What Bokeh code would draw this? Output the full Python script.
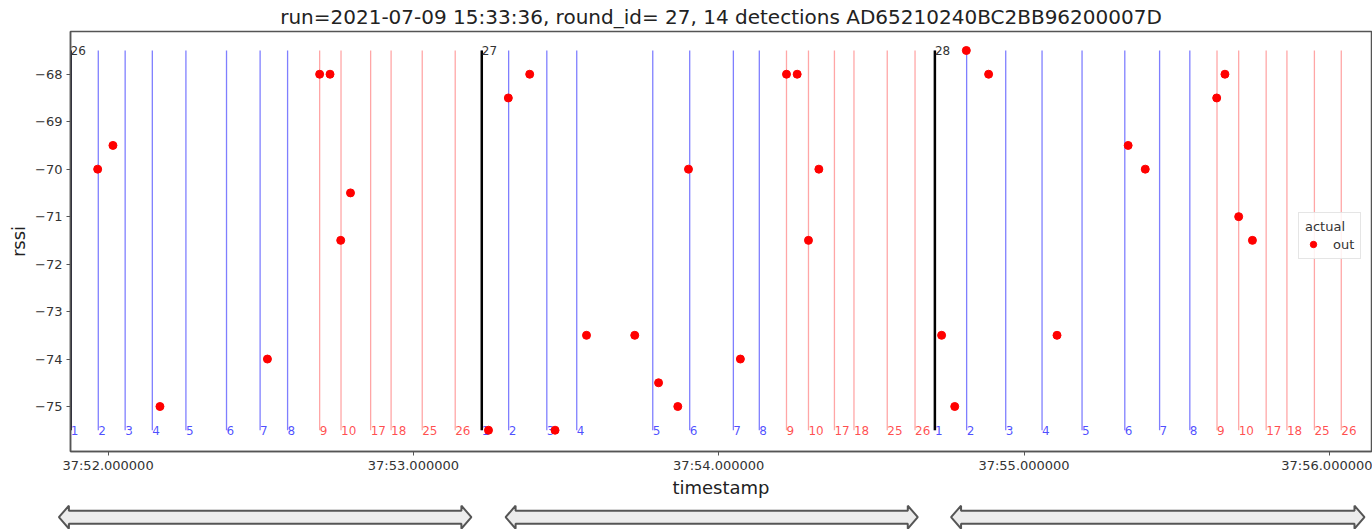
from bokeh.plotting import figure
from bokeh.models import ColumnDataSource, Range1d, FixedTicker, Legend, LegendItem
from bokeh.layouts import column
from bokeh.core.properties import value
from bokeh.embed import file_html
from bokeh.resources import INLINE

# ---------------- data ----------------
TITLE = "run=2021-07-09 15:33:36, round_id= 27, 14 detections AD65210240BC2BB96200007D"

round_ids = [26, 27, 28]
round_start_t = [51.877, 53.224, 54.708]          # seconds within minute 37

channels = [1, 2, 3, 4, 5, 6, 7, 8, 9, 10, 17, 18, 25, 26]
channel_colors = ["blue"] * 8 + ["red"] * 6

round26_channel_t = [51.878, 51.968, 52.056, 52.145, 52.255, 52.388, 52.498,
                     52.588, 52.693, 52.763, 52.860, 52.927, 53.029, 53.137]
round27_channel_t = [53.224, 53.312, 53.437, 53.535, 53.784, 53.905, 54.048,
                     54.133, 54.222, 54.294, 54.379, 54.443, 54.552, 54.643]
round28_channel_t = [54.708, 54.812, 54.940, 55.059, 55.190, 55.330, 55.444,
                     55.543, 55.632, 55.703, 55.793, 55.861, 55.951, 56.039]

det_t = [51.966, 52.016, 52.170, 52.522, 52.693, 52.727, 52.762, 52.794,
         53.246, 53.311, 53.381, 53.464, 53.567, 53.725, 53.803, 53.866,
         53.901, 54.071, 54.222, 54.257, 54.294, 54.328,
         54.730, 54.773, 54.811, 54.884, 55.108, 55.341, 55.397, 55.631,
         55.658, 55.703, 55.748]
det_rssi = [-70.0, -69.5, -75.0, -74.0, -68.0, -68.0, -71.5, -70.5,
            -75.5, -68.5, -68.0, -75.5, -73.5, -73.5, -74.5, -75.0,
            -70.0, -74.0, -68.0, -68.0, -71.5, -70.0,
            -73.5, -75.0, -67.5, -68.0, -73.5, -69.5, -70.0, -68.5,
            -68.0, -71.0, -71.5]
det_actual = ["out"] * len(det_t)

x_tick_values = [52, 53, 54, 55, 56]
x_tick_labels = ["37:52.000000", "37:53.000000", "37:54.000000",
                 "37:55.000000", "37:56.000000"]
y_tick_values = [-75, -74, -73, -72, -71, -70, -69, -68]

arrow_start_t = [51.839, 53.302, 54.761]
arrow_end_t = [53.190, 54.652, 56.115]

# ---------------- layout constants ----------------
W = 1372
FONT = "DejaVu Sans"
BORDER_L, BORDER_R = 70, 1
X_START, X_END = 51.877, 56.138

ymin, ymax = min(det_rssi), max(det_rssi)
pad = (ymax - ymin) * 0.05

p = figure(width=W, height=500, output_backend="svg", toolbar_location=None,
           x_range=Range1d(X_START, X_END),
           y_range=Range1d(ymin - pad * 1.12, ymax + pad),
           min_border_left=BORDER_L, min_border_right=BORDER_R,
           min_border_bottom=47, min_border_top=0)
p.frame_align = False
p.title.text = TITLE
p.title.align = "center"
p.title.text_font = FONT
p.title.text_font_size = "20px"
p.title.text_font_style = "normal"
p.title.text_color = "#222222"
p.title.standoff = 5
p.grid.visible = False
p.outline_line_color = "#555555"
p.outline_line_width = 1.5
p.background_fill_color = "white"
p.border_fill_color = "white"

# channel lines + labels
ch_t, ch_lab, ch_col = [], [], []
for times in (round26_channel_t, round27_channel_t, round28_channel_t):
    for t, c, col in zip(times, channels, channel_colors):
        ch_t.append(t)
        ch_lab.append(str(c))
        ch_col.append(col)
ch_alpha = [0.5 if c == "blue" else 0.35 for c in ch_col]
ch_src = ColumnDataSource(dict(x=ch_t, y0=[ymin] * len(ch_t), y1=[ymax] * len(ch_t),
                               text=ch_lab, color=ch_col, alpha=ch_alpha))
p.segment(x0="x", y0="y0", x1="x", y1="y1", source=ch_src, line_color="color",
          line_alpha="alpha", line_width=1.3)
p.text(x="x", y="y0", text="text", source=ch_src, text_color="color",
       text_alpha=0.7, text_font=value(FONT), text_font_size="12px",
       text_baseline="alphabetic", text_align="left", x_offset=0)

# round boundary lines + labels
rd_src = ColumnDataSource(dict(x=round_start_t, y0=[ymin] * 3, y1=[ymax] * 3,
                               text=[str(r) for r in round_ids]))
p.segment(x0="x", y0="y0", x1="x", y1="y1", source=rd_src, line_color="black",
          line_width=2.5)
p.text(x="x", y="y1", text="text", source=rd_src, text_color="#333333",
       text_font=value(FONT), text_font_size="12px", text_baseline="alphabetic",
       text_align="left", x_offset=0)

# detections
det_src = ColumnDataSource(dict(x=det_t, y=det_rssi, actual=det_actual))
r_det = p.scatter(x="x", y="y", source=det_src, size=8, fill_color="red",
                  line_color="red")

# axes
p.xaxis.ticker = FixedTicker(ticks=x_tick_values)
p.xaxis.major_label_overrides = {v: l for v, l in zip(x_tick_values, x_tick_labels)}
p.yaxis.ticker = FixedTicker(ticks=y_tick_values)
p.yaxis.major_label_overrides = {v: "\u2212" + str(abs(v)) for v in y_tick_values}
p.xaxis.axis_label = "timestamp"
p.yaxis.axis_label = "rssi"
for ax in (p.xaxis, p.yaxis):
    ax.axis_line_color = "#555555"
    ax.axis_line_width = 1.5
    ax.major_tick_line_color = "#555555"
    ax.major_tick_out = 4
    ax.major_tick_in = 0
    ax.minor_tick_line_color = None
    ax.major_label_text_font = FONT
    ax.major_label_text_font_size = "13px"
    ax.major_label_text_color = "#333333"
    ax.axis_label_text_font = FONT
    ax.axis_label_text_font_size = "18px"
    ax.axis_label_text_font_style = "normal"
    ax.axis_label_text_color = "#222222"
p.xaxis.major_label_standoff = 2
p.xaxis.axis_label_standoff = 1
p.yaxis.major_label_standoff = 4
p.yaxis.axis_label_standoff = 3

legend = Legend(items=[LegendItem(label="out", renderers=[r_det])],
                title="actual", location=(1228, 192))
legend.title_text_font = FONT
legend.title_text_font_size = "13px"
legend.title_text_font_style = "normal"
legend.title_text_color = "#333333"
legend.title_standoff = 2
legend.label_text_font = FONT
legend.label_text_font_size = "13px"
legend.label_text_color = "#333333"
legend.border_line_color = "#cccccc"
legend.background_fill_alpha = 0.85
legend.padding = 6
legend.spacing = 0
legend.margin = 0
legend.glyph_width = 16
legend.glyph_height = 16
legend.label_standoff = 12
p.add_layout(legend)

# ---------------- arrows strip ----------------
frame_w = W - BORDER_L - BORDER_R
scale = (X_END - X_START) / frame_w
p2 = figure(width=W, height=29, output_backend="svg", toolbar_location=None,
            x_range=Range1d(X_START - BORDER_L * scale, X_END + BORDER_R * scale),
            y_range=Range1d(0, 29), min_border=0)
p2.frame_align = False
p2.axis.visible = False
p2.grid.visible = False
p2.outline_line_color = None

head = 10 * scale
yc, hh, sh = 12.3, 11.5, 6.5
xs_list, ys_list = [], []
for a, b in zip(arrow_start_t, arrow_end_t):
    xs_list.append([a, a + head, a + head, b - head, b - head, b,
                    b - head, b - head, a + head, a + head])
    ys_list.append([yc, yc + hh, yc + sh, yc + sh, yc + hh, yc,
                    yc - hh, yc - sh, yc - sh, yc - hh])
p2.patches(xs=xs_list, ys=ys_list, fill_color="#ececec",
           line_color="#555555", line_width=2)

layout = column(p, p2, spacing=0)
open("out.html", "w").write(file_html(layout, INLINE))
